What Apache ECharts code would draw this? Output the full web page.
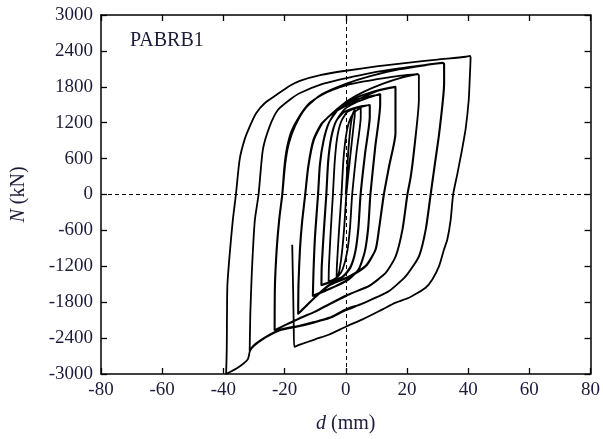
<!DOCTYPE html>
<html><head><meta charset="utf-8">
<script src="https://cdn.jsdelivr.net/npm/echarts@6/dist/echarts.min.js"></script>
<style>html,body{margin:0;padding:0;background:#fff}#c{width:603px;height:439px}</style>
</head><body><div id="c"></div>
<script>
// Axis settings (values)
const xMin = -80, xMax = 80, xStep = 20;
const yMin = -3000, yMax = 3000, yStep = 600;
const specimen = 'PABRB1';

// Hysteresis path of d (mm), N (kN), in loading order
const loopSmall1 = [[0,0],[0.8,700],[1.6,1150],[2.3,1350],[3.0,1420],
  [2.9,1300],[1.6,700],[0.2,0],[-0.5,-550],[-1.2,-950],[-2,-1250],[-2.6,-1370],[-3.0,-1420]];
const loopSmall2 = [[-2.9,-1200],[-2.2,-600],[-1.4,0],[-0.8,550],[0,950],[1,1200],[2.5,1360],[4,1420],[4.9,1445],
  [4.9,1300],[3.5,700],[2.1,0],[1.4,-550],[0.5,-950],[-1,-1250],[-2.5,-1370],[-4,-1420],[-5.6,-1450]];
const loop8a = [[-5.5,-1200],[-4.9,-600],[-4.2,0],[-3.6,550],[-2.8,950],[-1.5,1220],[0.5,1380],[3,1440],[5.5,1470],[7.9,1500],
  [7.9,1300],[6.4,700],[4.9,0],[4.2,-550],[3.2,-950],[1.5,-1230],[-1,-1380],[-4,-1450],[-8,-1520]];
const loop8b = [[-7.9,-1200],[-7.2,-600],[-6.4,0],[-5.8,550],[-4.8,950],[-3.2,1220],[-0.5,1380],[3,1450],[5.5,1480],[7.8,1495],
  [7.8,1300],[6.3,700],[4.8,0],[4.1,-550],[3.1,-950],[1.4,-1220],[-1,-1370],[-4,-1440],[-7.9,-1510]];
const loop12a = [[-7.8,-1200],[-7.1,-600],[-6.3,0],[-5.7,550],[-4.7,950],[-3.1,1230],[-0.5,1420],[3,1530],[7,1610],[11.3,1680],
  [11.3,1500],[9.7,800],[8.1,0],[7.4,-550],[6.3,-950],[4.3,-1250],[1,-1420],[-3,-1530],[-7,-1620],[-10.8,-1700]];
const loop12b = [[-10.6,-1300],[-10.1,-700],[-9.1,0],[-8.5,500],[-7.3,900],[-5.5,1200],[-2.5,1420],[1,1540],[5,1610],[8.5,1650],[11.2,1670],
  [11.2,1500],[9.6,800],[8.0,0],[7.3,-550],[6.2,-950],[4.2,-1250],[1,-1410],[-3,-1520],[-7,-1610],[-10.7,-1690]];
const loop16a = [[-10.5,-1300],[-10,-700],[-9.0,0],[-8.4,500],[-7.2,900],[-5.3,1220],[-2.5,1430],[1.5,1570],[6,1670],[11,1750],[16.3,1802],
  [16.3,1600],[16.3,1025],[14.2,468],[12.5,0],[10.9,-587],[9.8,-920],[6.6,-1198],[1.1,-1380],[-5.4,-1520],[-10,-1720],[-13,-1870],[-15.6,-2000]];
const loop16b = [[-15.5,-1500],[-15,-900],[-14.3,-450],[-13.3,0],[-12.3,468],[-10.6,913],[-7.8,1192],[-3.3,1385],[1.1,1510],[6.6,1650],[11,1740],[16.2,1795],
  [16.2,1600],[16.2,1025],[14.1,468],[12.4,0],[10.8,-587],[9.7,-920],[6.5,-1190],[1,-1370],[-5.4,-1510],[-10,-1710],[-13,-1860],[-15.5,-1990]];
const loop24a = [[-15.4,-1500],[-14.9,-900],[-14.2,-450],[-13.2,0],[-12.2,468],[-10.4,913],[-7.5,1200],[-3,1420],[1,1580],[6,1720],[12,1850],[18,1950],[23.5,2010],
  [23.9,1990],[23.9,1580],[22.3,745],[21.2,300],[20.1,0],[18.5,-587],[16.3,-1032],[13.1,-1308],[7.7,-1530],[3,-1630],[0,-1698],[-5.4,-1837],[-10,-1960],[-15,-2070],[-20,-2190],[-23.3,-2270]];
const loop24b = [[-23.2,-1530],[-22.6,-900],[-21.8,-420],[-20.8,0],[-20.1,450],[-19.3,760],[-17.8,1050],[-15.5,1280],[-11.9,1525],[-8,1660],[-4.3,1747],[0.6,1830],[6,1890],[12,1942],[18,1985],[23.4,2013],
  [23.9,1995],[23.9,1590],[22.4,750],[21.3,300],[20.2,0],[18.6,-580],[16.4,-1025],[13.2,-1300],[7.8,-1520],[3,-1625],[0,-1690],[-5.4,-1830],[-10,-1955],[-15,-2065],[-20,-2185],[-23.2,-2265]];
const loop32a = [[-23.1,-1530],[-22.5,-900],[-21.7,-420],[-20.7,0],[-19.8,500],[-18.6,850],[-16.5,1150],[-13,1450],[-8,1670],[0,1850],[8,1980],[17.4,2090],[26,2160],[31.5,2195],
  [32.1,2180],[32.1,1858],[30.5,1025],[29,480],[27.7,0],[26.1,-587],[23.9,-1032],[19.6,-1365],[14.2,-1615],[9.8,-1725],[5,-1830],[0,-1920],[-5.4,-2058],[-10.3,-2130],[-15,-2190],[-21.1,-2253],[-23.3,-2300],[-26.5,-2392],[-30,-2520],[-31.4,-2610]];
const loop32b = [[-31.2,-2000],[-30.7,-1300],[-30.2,-800],[-29.7,-420],[-28.5,0],[-27.1,747],[-24.9,1135],[-22.2,1413],[-18.4,1580],[-15.1,1692],[-8,1840],[0,1942],[8,2030],[17.4,2108],[26,2165],[31.6,2205],
  [32.2,2185],[32.2,1850],[30.6,1030],[29.1,480],[27.8,0],[26.2,-580],[24,-1030],[19.7,-1360],[14.3,-1610],[9.9,-1720],[5,-1835],[0,-1935],[-5.4,-2068],[-10.3,-2140],[-15,-2200],[-21.1,-2262],[-23.3,-2310],[-26.5,-2400],[-30,-2530],[-31.3,-2615],[-32,-2753],[-35.2,-2892],[-39.1,-3000]];
const loop40 = [[-38.9,-2600],[-38.7,-1530],[-37.9,-975],[-36.9,-420],[-35.9,0],[-34.7,580],[-33.1,913],[-31.4,1135],[-29.3,1358],[-26.5,1525],[-22.7,1663],[-18.4,1813],[-15,1900],[-8,2000],[0,2068],[10,2140],[20,2200],[30,2255],[39.2,2302],[40.6,2318],
  [40.8,2290],[40.5,1900],[40.2,1580],[39.2,1100],[38,747],[36.5,350],[35.1,0],[34.3,-420],[33.2,-753],[32.1,-920],[30.5,-1198],[28.3,-1420],[26.1,-1558],[23,-1660],[20.7,-1725],[16.3,-1808],[12,-1920],[5.5,-2087],[0,-2210],[-5.4,-2340],[-10,-2420],[-15,-2510],[-16.8,-2545]];
const finalDrop = [[-17.0,-2200],[-17.2,-1600],[-17.5,-840]];

const path = [].concat(loopSmall1, loopSmall2, loop8a, loop8b, loop12a, loop12b,
  loop16a, loop16b, loop24a, loop24b, loop32a, loop32b, loop40, finalDrop);

const FONT = '"Liberation Serif", "Times New Roman", serif';
const TXT = '#1c1c3a';
const lineCol = '#000';

const frameAxis = (pos) => ({
  type: 'value', position: pos, min: pos === 'top' || pos === 'bottom' ? xMin : yMin,
  max: pos === 'top' || pos === 'bottom' ? xMax : yMax,
  interval: pos === 'top' || pos === 'bottom' ? xStep : yStep,
  axisLine: { show: true, onZero: false, lineStyle: { color: lineCol, width: 1.5 } },
  axisTick: { show: true, inside: true, length: 6, lineStyle: { color: lineCol, width: 1.3 } },
  splitLine: { show: false }
});

const chart = echarts.init(document.getElementById('c'), null, { renderer: 'canvas' });
chart.setOption({
  animation: false,
  backgroundColor: '#fff',
  grid: { left: 101, right: 11, top: 15, bottom: 64 },
  xAxis: [
    Object.assign(frameAxis('bottom'), {
      axisLabel: { show: true, color: TXT, fontFamily: FONT, fontSize: 19, margin: 7, showMinLabel: true, showMaxLabel: true,
        formatter: (v) => String(v) },
      name: '{i|d} (mm)', nameLocation: 'middle', nameGap: 40,
      nameTextStyle: { color: TXT, fontFamily: FONT, fontSize: 20,
        rich: { i: { fontStyle: 'italic', fontFamily: FONT, fontSize: 20, color: TXT } } }
    }),
    Object.assign(frameAxis('top'), { axisLabel: { show: false } })
  ],
  yAxis: [
    Object.assign(frameAxis('left'), {
      axisLabel: { show: true, color: TXT, fontFamily: FONT, fontSize: 19, margin: 8, showMinLabel: true, showMaxLabel: true,
        formatter: (v) => String(v) },
      name: '{i|N} (kN)', nameLocation: 'middle', nameGap: 72, nameRotate: 90,
      nameTextStyle: { color: TXT, fontFamily: FONT, fontSize: 20,
        rich: { i: { fontStyle: 'italic', fontFamily: FONT, fontSize: 20, color: TXT } } }
    }),
    Object.assign(frameAxis('right'), { axisLabel: { show: false } })
  ],
  graphic: [{
    type: 'text', left: 130, top: 31,
    style: { text: specimen, font: '20px ' + FONT, fill: TXT }
  }],
  series: [{
    type: 'line',
    data: path,
    xAxisIndex: 0, yAxisIndex: 0,
    showSymbol: false, symbol: 'none',
    smooth: 0.2,
    clip: true,
    lineStyle: { color: '#000', width: 1.8 },
    markLine: {
      silent: true, symbol: ['none', 'none'], animation: false,
      label: { show: false },
      lineStyle: { color: '#000', width: 1, type: [4, 3] },
      data: [{ xAxis: 0 }, { yAxis: 0 }]
    }
  }]
});
</script></body></html>
